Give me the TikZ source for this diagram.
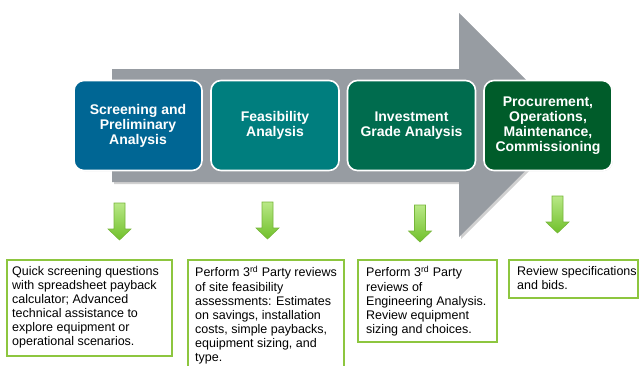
\documentclass[tikz,border=0pt]{standalone}
\usepackage{fontspec}
\setmainfont{Liberation Sans}
\usetikzlibrary{shadows}
\definecolor{arrgray}{RGB}{151,156,162}
\definecolor{boxA}{RGB}{0,102,148}
\definecolor{boxB}{RGB}{0,126,126}
\definecolor{boxC}{RGB}{0,108,78}
\definecolor{boxD}{RGB}{0,92,42}
\definecolor{gTop}{RGB}{185,232,135}
\definecolor{gBot}{RGB}{112,192,42}
\definecolor{gLine}{RGB}{118,182,58}
\definecolor{frameGreen}{RGB}{141,198,63}
\begin{document}
\begin{tikzpicture}[x=1pt,y=-1pt,
  stagebox/.style={rounded corners=10pt, draw=white, line width=1.6pt,
    minimum width=128pt, minimum height=90pt, inner sep=0pt,
    text=white, align=center,
    drop shadow={opacity=0.2, shadow xshift=0.8pt, shadow yshift=-0.8pt},
    font=\fontsize{14}{15}\selectfont\bfseries},
  notebox/.style={draw=frameGreen, line width=2.3pt, fill=white,
    drop shadow={opacity=0.25, shadow xshift=1pt, shadow yshift=-1pt}},
  notetext/.style={anchor=north west, inner sep=0pt, align=left,
    font=\fontsize{12.5}{14.1}\selectfont},
  greendown/.pic={
    \shade[top color=gTop, bottom color=gBot, draw=gLine, line width=0.6pt]
      (-5.5,0) -- (5.5,0) -- (5.5,26) -- (11.5,26) -- (0,37)
      -- (-11.5,26) -- (-5.5,26) -- cycle;}
]
\useasboundingbox (0,0) rectangle (639,365);
\clip (0,0) rectangle (639,365);

% big gray arrow with soft shadow
\fill[black, opacity=0.18] (114,71) -- (461,71) -- (461,15) -- (573,127)
  -- (461,239) -- (461,184) -- (114,184) -- cycle;
\fill[arrgray] (112,69) -- (459,69) -- (459,13) -- (571,125)
  -- (459,237) -- (459,182) -- (112,182) -- cycle;

% stage boxes
\node[stagebox, fill=boxA] (s1) at (138,125.5) {Screening and\\Preliminary\\Analysis};
\node[stagebox, fill=boxB] (s2) at (275,125.5) {Feasibility\\Analysis};
\node[stagebox, fill=boxC] (s3) at (411.5,125.5) {Investment\\Grade Analysis};
\node[stagebox, fill=boxD] (s4) at (548,125.5) {Procurement,\\Operations,\\Maintenance,\\Commissioning};

% green down arrows
\pic at (119.5,203) {greendown};
\pic at (267.5,202) {greendown};
\pic at (420,205) {greendown};
\pic at (557.5,196) {greendown};

% note boxes
\draw[notebox] (7,260) rectangle (172,356);
\draw[notebox] (188,260) rectangle (344,380);
\draw[notebox] (358,260) rectangle (497,342);
\draw[notebox] (509,260) rectangle (638,298);

\node[notetext] (t1) at (12,266) {Quick screening questions\\with spreadsheet payback\\calculator; Advanced\\technical assistance to\\explore equipment or\\operational scenarios.};
\node[notetext] (t2) at (195,266) {Perform 3\textsuperscript{rd} Party reviews\\of site feasibility\\assessments: Estimates\\on savings, installation\\costs, simple paybacks,\\equipment sizing, and\\type.};
\node[notetext] (t3) at (366,266) {Perform 3\textsuperscript{rd} Party\\reviews of\\Engineering Analysis.\\Review equipment\\sizing and choices.};
\node[notetext] (t4) at (517,266) {Review specifications\\and bids.};
\end{tikzpicture}
\end{document}
